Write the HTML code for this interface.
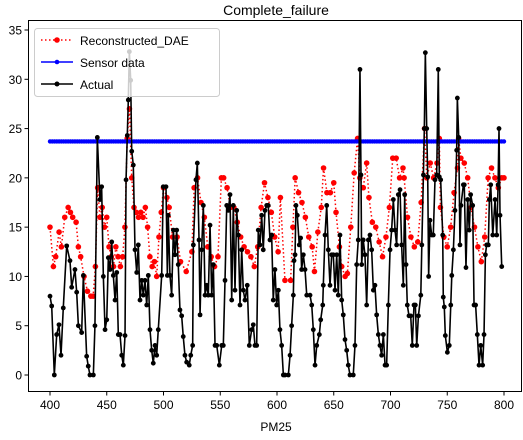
<!DOCTYPE html>
<html><head><meta charset="utf-8">
<style>
html,body{margin:0;padding:0;background:#fff;}
svg text{font-family:"Liberation Sans","DejaVu Sans",sans-serif;}
</style></head>
<body>
<svg id="chart" width="523" height="435" viewBox="0 0 523 435" xmlns="http://www.w3.org/2000/svg">
<rect width="523" height="435" fill="#fff"/>
<text x="276" y="15" font-size="14" text-anchor="middle">Complete_failure</text>
<g id="plot"></g>
<rect x="28.5" y="20.5" width="493" height="371" fill="none" stroke="#000" stroke-width="1"/>
<g id="axes"></g>
<text x="276" y="431" font-size="12" text-anchor="middle">PM25</text>
<g>
<rect x="34.5" y="28.5" width="185" height="68" rx="3" fill="#fff" fill-opacity="0.8" stroke="#ccc"/>
<g>
<line x1="41" y1="40" x2="73" y2="40" stroke="red" stroke-width="1.5" stroke-dasharray="1.5,2.5"/>
<circle cx="57" cy="40" r="2.8" fill="red"/>
<text x="80" y="45" font-size="12">Reconstructed_DAE</text></g>
<g>
<line x1="41" y1="62" x2="73" y2="62" stroke="blue" stroke-width="1.5"/>
<circle cx="57" cy="62" r="2.3" fill="blue"/>
<text x="80" y="67" font-size="12">Sensor data</text></g>
<g>
<line x1="41" y1="84" x2="73" y2="84" stroke="#000" stroke-width="1.5"/>
<circle cx="57" cy="84" r="2.5" fill="#000"/>
<text x="80" y="89" font-size="12">Actual</text></g>
</g>
</svg>
<script>
const actualX=[400,401.5,403.8,405.9,407.9,409.7,411.7,414.7,417.6,419.1,422,423.5,425,427.9,429.4,432.3,433.7,435.2,438.2,439.6,441.7,444,445.5,447,448.5,450,451.4,452.9,454.4,455.8,457.3,458.8,460.2,461.7,463.2,464.6,466.1,467,468.1,469,469.9,471.1,472,473.4,474.9,476.4,477.8,479.3,480.8,482.2,483.7,485.2,486.6,488.1,489.6,491,492.5,494,495.4,498.4,499.8,502.2,503.4,504.2,505.7,507.2,508.7,510.1,511.6,513,514.5,516,517.4,518.9,520.4,522.7,524,525.7,526.3,528.6,529.8,531.3,532.2,533.6,535.1,536.6,538,539.5,541,542.5,543.9,545.4,546.9,549.2,551.3,552.7,554.2,555.7,557.1,558.6,560.1,561.5,563,564.5,565.9,567.4,568.9,570.3,571.8,573.8,575.6,577.7,579.1,580.6,582.1,583.5,585,586.5,587.9,589.4,590.9,592.3,593.8,595.3,596.7,598.2,599.7,601.2,602.6,604.1,605.6,607,610,611.5,612.9,614.4,615,615.9,616.7,617.9,619.6,620.8,621.7,623.2,624.7,626.2,629.1,630.6,632,633.5,635,637.3,638.5,640.3,640.8,642.3,643.8,645.2,646.7,648.2,649.6,651.1,652.6,654,655.5,657,658.4,659.9,661.4,662.8,664.3,667.2,668.7,670.2,671.6,673.1,674,674.6,676,677.5,679,680.5,681.9,683.4,684.9,686.3,687.8,689.3,690.7,692.2,693.7,695.2,696.6,698.1,699.6,701,702.5,704,705.4,706.9,708.4,709.8,711.3,712.5,713.7,714.8,716.3,717.8,719.2,720.7,721.9,723.1,724.6,726.7,727.6,729,729.8,730.7,731.9,732.8,733.6,734.8,736.3,737.7,739.2,740.7,742.1,743,744.2,746,746.5,747.4,748.3,750.1,751.8,753.1,754,755.4,756.8,758.3,758.9,760.1,761.2,762.1,764.2,765,766.5,768,769.4,770.6,772.4,773.6,775,776.5,778,779.5,781.2,782.4,783.6,784.7,786.2,787.1,788.3,790.1,792.1,793.6,794.8,795.6,796.5,798];
const actualY=[8,7,0,4.1,5.1,2,6.8,13.1,11.6,8.9,10.7,8.4,5,4.3,10.1,1.9,0.9,0,0,5,24.1,17.8,19.1,10,4.6,5.6,11.9,10.7,13.5,10.1,7.6,10.4,4.1,4.1,2,1,4,19.8,24.3,27.9,32.8,29.9,22.7,21.3,12.7,10.4,13.2,7.6,9.6,8.1,9.6,7.1,10.1,4.6,2.5,1.2,3,2,4.6,10.1,19.1,19.1,10.1,16.2,10.1,8.1,14.7,12.2,14.7,11.2,6.6,6,3.9,2,1.3,1,2,3,13.2,19.8,21.5,13.7,6.1,12.7,17.2,8.1,9.1,8.1,15.2,8.1,11.2,3,3,1,3,3,9.6,17.2,16.7,18.3,7.6,17.2,8.6,16.7,14.2,7.1,12.7,8.6,7.6,9.1,3,4.6,5.1,3,3,14.7,13.2,16.2,12.7,16.7,17.2,17.2,13.7,14.2,7.6,10.7,7.1,8.6,4.6,3,0,0,0,2,5,8.1,11.6,12.2,17.2,16.2,13.2,13.9,10.7,12.2,10.7,8.1,8.1,7.1,4.6,1,3,4.1,5.6,7.1,9.1,14.2,17.2,12.7,9.1,12.2,12.2,8.6,12.2,8.1,14.2,7.6,6.1,3.6,2.5,1,0,0,3,11.2,13.7,31,20.3,11.2,13.7,12.2,7.1,13.7,14.2,12.7,8.6,9.1,6.1,4.1,3,2,4.1,1,1,7.1,12.7,14.7,17.8,14.7,13.2,18.3,18.8,13.2,9.1,18.3,11.2,7.1,6,6,3,7.1,7.1,3,6,8.1,13.2,20.3,25,32.7,25,20.1,10,15.7,14.2,14.2,19.8,20.3,31,20.1,19.8,14.2,7.9,6.9,4,2.3,3,7.1,10.1,12.7,16.7,22.8,28.1,24.1,13.2,17.2,19.3,19.3,10.9,17.8,14.7,18.3,17.2,7.1,7.1,4.1,1,3,1,4.1,12.2,13.2,13.2,17.8,19.3,14.2,17.8,14.2,19.3,25,16.2,11];
const reconX=[400,403,405,408,410,413,416,418,420,423,425,427,430,433,436,438,440,442,444,446,448,450,452,454,456,458,460,462,464,466,468,470,472,474,476,478,480,482,484,486,488,490,492,494,496,498,500,503,505,508,512,515,520,525,527,530,533,536,539,542,545,548,551,553,556,559,562,565,568,571,574,577,580,583,586,589,592,595,598,601,603,607,612,614,616,619,622,625,628,631,633,636,639,641,644,647,650,652,655,657,660,662,665,668,671,673,676,679,681,684,687,690,693,696,699,702,705,708,711,712,715,718,721,724,727,730,732,735,738,741,743,744,747,750,753,756,759,760,762,765,768,771,774,777,780,783,786,789,792,795,798,800];
const reconY=[15,11,12,14.5,13,16,17,16.5,16,15.5,13,12,10,8.5,8,8,11,19,16,17,15,16,13,12,11,13,12,11,12,15,24,27,20,17,16.5,16,16.5,16,17,15,12,11,11.5,10,14,16.5,19,18,17,14,14,11.5,10.5,12.5,19,20,17.5,16,13,12,11,12,20,20,19,17,17,15.5,14,13,12.5,12,11,13,17,19.5,18,16.5,14,12.5,18,9.6,9.6,15,20,18.5,17.5,16,14,13,10.5,14.5,17,21,18.5,18.5,19.5,16.5,13,11,10,10.3,15,20.5,24,20,19,21.5,18,15.5,15,13.5,12,14,17,22,22,20,21,20,16,14,13,13.5,17.5,25,20,21.5,20,21.5,24,17,14,13,15,18.5,21,24,22,21.5,20,17,15,13,11.5,14,20,21,20,19,20,20];
const sensorValue=23.7;
const xTicks=[400,450,500,550,600,650,700,750,800];
const yTicks=[0,5,10,15,20,25,30,35];

const NS="http://www.w3.org/2000/svg";
function sx(x){return 50+(x-400)*1.135;}
function sy(v){return 375-v*9.857;}
const plot=document.getElementById('plot');
const axes=document.getElementById('axes');
function mk(tag,attrs,parent){const e=document.createElementNS(NS,tag);for(const k in attrs)e.setAttribute(k,attrs[k]);parent.appendChild(e);return e;}

// reconstructed
let rg=mk('g',{},plot);


mk('polyline',{points:reconX.map((x,i)=>sx(x)+','+sy(reconY[i])).join(' '),fill:'none',stroke:'red','stroke-width':1.5,'stroke-dasharray':'1.5,2.5'},rg);
reconX.forEach((x,i)=>{const c=mk('circle',{cx:sx(x),cy:sy(reconY[i]),r:2.8,fill:'red'},rg);

});

// sensor
let bg=mk('g',{},plot);


mk('line',{x1:sx(400),x2:sx(800),y1:sy(sensorValue),y2:sy(sensorValue),stroke:'blue','stroke-width':1.5},bg);
for(let x=400;x<=800;x+=2){const c=mk('circle',{cx:sx(x),cy:sy(sensorValue),r:2.2,fill:'blue'},bg);

}

// actual
let ag=mk('g',{},plot);


mk('polyline',{points:actualX.map((x,i)=>sx(x)+','+sy(actualY[i])).join(' '),fill:'none',stroke:'#000','stroke-width':1.6,'stroke-linejoin':'round'},ag);
actualX.forEach((x,i)=>{const c=mk('circle',{cx:sx(x),cy:sy(actualY[i]),r:2.4,fill:'#000'},ag);

});

// ticks
xTicks.forEach(t=>{const x=sx(t);
mk('line',{x1:x,x2:x,y1:392,y2:395.5,stroke:'#000'},axes);
const tx=mk('text',{x:x,y:409,'font-size':12,'text-anchor':'middle'},axes);tx.textContent=t;

});
yTicks.forEach(t=>{const y=sy(t);
mk('line',{x1:28,x2:24.5,y1:y,y2:y,stroke:'#000'},axes);
const tx=mk('text',{x:22,y:y+4.5,'font-size':12,'text-anchor':'end'},axes);tx.textContent=t;

});
</script>
</body></html>
